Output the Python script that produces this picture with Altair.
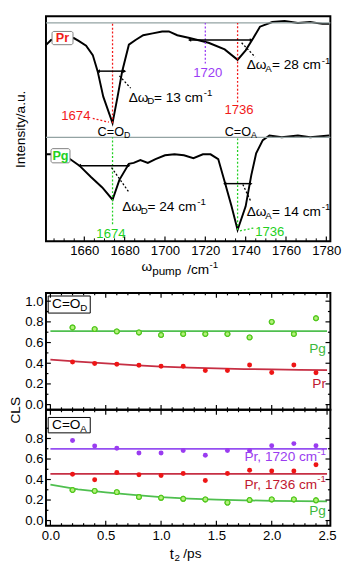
import altair as alt
import pandas as pd

FONT = "Liberation Sans"
W = 292
H_TOP = 231
H1 = 120
H2 = 119

RED = "#f21a1a"
GREEN = "#22d022"
PURPLE = "#9a3cf5"
GRAY = "#93a3a3"
DARKRED = "#c01830"
LGREEN = "#3cb83c"

# ---------------- top panel: pump spectra ----------------
pr_w = [1641.2, 1643.5, 1654.8, 1657.2, 1660.9, 1664.2, 1666.6, 1669.4, 1674.0,
        1676.5, 1678.8, 1682.1, 1685.4, 1689.2, 1693.9, 1698.6, 1701.9,
        1706.1, 1712.2, 1721.6, 1729.6, 1736.0, 1740.0, 1743.8, 1747.1,
        1753.2, 1759.3, 1765.9, 1772.0, 1778.1, 1781.4]
pr_i = [208, 213, 215, 212, 207, 197, 180, 153, 125,
        153, 180, 208, 213, 218, 220, 222, 222,
        218, 215, 210, 203, 192, 202, 215, 227,
        232, 233, 231, 232, 230, 230]
pg_w = [1641.2, 1646.8, 1652.9, 1657.6, 1663.3, 1668.9, 1674.0,
        1677.4, 1682.1, 1684.5, 1687.8, 1691.5, 1695.3, 1700.0,
        1704.7, 1709.4, 1714.1, 1718.8, 1722.6, 1726.4, 1729.6,
        1733.0, 1736.0, 1740.0, 1742.8, 1745.2, 1748.5, 1751.8,
        1757.9, 1765.9, 1772.0, 1781.4]
pg_i = [92, 92, 87, 80, 68, 57, 44,
        65, 82, 83, 86, 83, 87, 91,
        92, 91, 88, 92, 92, 87, 63,
        37, 12, 37, 70, 93, 107, 112,
        110, 112, 110, 112]
top_ticks = [1660, 1680, 1700, 1720, 1740, 1760, 1780]
top_minor = [1645, 1650, 1655, 1665, 1670, 1675, 1685, 1690, 1695, 1705, 1710,
             1715, 1725, 1730, 1735, 1745, 1750, 1755, 1765, 1770, 1775]
base_lines = [231, 110]
vl_w = [1674, 1736, 1720, 1674, 1736]
vl_lo = [125, 147, 188, 18, 12]
vl_hi = [231, 231, 231, 110, 110]
vl_c = [RED, RED, PURPLE, GREEN, GREEN]
arr_w1 = [1667.0, 1712.2, 1657.6, 1729.6]
arr_w2 = [1680.0, 1742.8, 1682.1, 1742.6]
arr_v = [180, 213, 80, 61]
con_x1 = [1677.4, 1738.0, 1673.5, 1738.6, 1664.2, 1737.2]
con_x2 = [1683.0, 1744.7, 1682.1, 1742.4, 1672.2, 1743.8]
con_y1 = [175, 210, 78, 60, 130, 11]
con_y2 = [162, 195, 52, 43, 126, 14]
con_c = ["black", "black", "black", "black", RED, GREEN]

# ---------------- bottom panels: CLS vs t2 ----------------
t2 = [0.2, 0.4, 0.6, 0.8, 1.0, 1.2, 1.4, 1.6, 1.8, 2.0, 2.2, 2.4]
d_pg = [0.746, 0.73, 0.708, 0.698, 0.673, 0.683, 0.683, 0.683, 0.65, 0.8, 0.683, 0.835]
d_pr = [0.413, 0.397, 0.39, 0.38, 0.371, 0.371, 0.33, 0.33, 0.384, 0.311, 0.384, 0.308]
a_pr1720 = [0.78, 0.726, 0.705, 0.658, 0.658, 0.683, 0.637, 0.683, 0.683, 0.73, 0.75, 0.73]
a_pr1736 = [0.452, 0.397, 0.468, 0.446, 0.44, 0.458, 0.39, 0.458, 0.49, 0.483, 0.483, 0.545]
a_pg = [0.298, 0.289, 0.277, 0.23, 0.222, 0.212, 0.206, 0.175, 0.2, 0.206, 0.206, 0.197]
fit_t = [0.0, 0.25, 0.5, 0.75, 1.0, 1.25, 1.5, 1.75, 2.0, 2.25, 2.5]
fit_d_pr = [0.435, 0.415, 0.398, 0.382, 0.368, 0.358, 0.35, 0.344, 0.34, 0.336, 0.333]
fit_a_pg = [0.35, 0.305, 0.275, 0.25, 0.228, 0.213, 0.203, 0.197, 0.193, 0.19, 0.188]
flat_t = [0.0, 2.5]
fit_d_pg = [0.71, 0.71]
fit_a_pr1720 = [0.70, 0.70]
fit_a_pr1736 = [0.455, 0.455]
bx_major = [0.0, 0.5, 1.0, 1.5, 2.0, 2.5]
bx_minor = [0.1, 0.2, 0.3, 0.4, 0.6, 0.7, 0.8, 0.9, 1.1, 1.2, 1.3, 1.4,
            1.6, 1.7, 1.8, 1.9, 2.1, 2.2, 2.3, 2.4]
by_major = [0.0, 0.2, 0.4, 0.6, 0.8, 1.0]
by_minor = [0.1, 0.3, 0.5, 0.7, 0.9]

XT = alt.Scale(domain=[1641, 1782], nice=False, zero=False)
YT = alt.Scale(domain=[0, 238], nice=False, zero=False)
XB = alt.Scale(domain=[-0.04, 2.53], nice=False, zero=False)
YB = alt.Scale(domain=[-0.05, 1.08], nice=False, zero=False)

# axis definitions, shared by every layer of a panel
AX_TOP_X = alt.Axis(values=top_ticks, format="d", ticks=False, domain=False, grid=False,
                    labelFontSize=13.5, labelPadding=3, labelFlush=False,
                    labelOverlap=False, title=None)
AX_TOP_Y = alt.Axis(labels=False, ticks=False, domain=False, grid=False,
                    title="Intensity/a.u.", titleFontSize=14, titleFontWeight="normal",
                    titlePadding=19)
AX_P1_Y = alt.Axis(values=by_major, format=".1f", ticks=False, domain=False, grid=False,
                   labelFontSize=13.5, labelPadding=3, labelOverlap=False, title="CLS",
                   titleFontSize=14, titleFontWeight="normal", titlePadding=2, titleY=H1)
AX_P2_X = alt.Axis(values=bx_major, format=".1f", ticks=False, domain=False, grid=False,
                   labelFontSize=13.5, labelPadding=3, labelFlush=False, labelOverlap=False,
                   title=None)
AX_P2_Y = alt.Axis(values=[0.0, 0.2, 0.4, 0.6, 0.8], format=".1f", ticks=False,
                   domain=False, grid=False, labelFontSize=13.5, labelPadding=3,
                   labelOverlap=False, title=None)

CT = dict(xs=XT, ys=YT, xa=AX_TOP_X, ya=AX_TOP_Y)
C1 = dict(xs=XB, ys=YB, xa=None, ya=AX_P1_Y)
C2 = dict(xs=XB, ys=YB, xa=AX_P2_X, ya=AX_P2_Y)


def ex(c, f):
    return alt.X(f"{f}:Q", scale=c["xs"], axis=c["xa"])


def ey(c, f):
    return alt.Y(f"{f}:Q", scale=c["ys"], axis=c["ya"])


def txt(c, xv, yv, s, **kw):
    d = pd.DataFrame({"x": [xv], "y": [yv], "s": [s]})
    return alt.Chart(d).mark_text(font=FONT, **kw).encode(
        x=ex(c, "x"), y=ey(c, "y"), text="s:N")


def ptxt(px, py, s, **kw):
    d = pd.DataFrame({"s": [s]})
    return alt.Chart(d).mark_text(font=FONT, **kw).encode(
        x=alt.value(px), y=alt.value(py), text="s:N")


def delta(w, v, sub, rest):
    return [
        txt(CT, w, v, "Δω", align="left", fontSize=14),
        txt(CT, w, v, sub, align="left", dx=19, dy=4, fontSize=10),
        txt(CT, w, v, rest, align="left", dx=26, fontSize=14),
        txt(CT, w, v, "-1", align="left", dx=77, dy=-5, fontSize=10),
    ]


def cox(c, xv, yv, sub, size=13, subsize=9, wco=27):
    return [
        txt(c, xv, yv, "C=O", align="left", fontSize=size),
        txt(c, xv, yv, sub, align="left", dx=wco, dy=4, fontSize=subsize),
    ]


spec_df = pd.concat([
    pd.DataFrame({"w": pr_w, "i": pr_i, "s": "Pr"}),
    pd.DataFrame({"w": pg_w, "i": pg_i, "s": "Pg"}),
])

spectra = alt.Chart(spec_df).mark_line(color="black", strokeWidth=2).encode(
    x=ex(CT, "w"), y=ey(CT, "i"), detail="s:N")

gray = alt.Chart(pd.DataFrame({"v": base_lines})).mark_rule(
    color=GRAY, strokeWidth=1.3).encode(y=ey(CT, "v"))

vlines = alt.Chart(pd.DataFrame({"w": vl_w, "a": vl_lo, "b": vl_hi, "c": vl_c})).mark_rule(
    strokeDash=[2, 2], strokeWidth=1.3).encode(
    x=ex(CT, "w"), y=ey(CT, "a"), y2="b:Q", color=alt.Color("c:N", scale=None))

arr_df = pd.DataFrame({"a": arr_w1, "b": arr_w2, "v": arr_v})
arrows = alt.Chart(arr_df).mark_rule(color="black", strokeWidth=1.5).encode(
    x=ex(CT, "a"), x2="b:Q", y=ey(CT, "v"))
head_l = alt.Chart(arr_df).mark_point(shape="triangle-left", filled=True, size=14,
                                      color="black", opacity=1).encode(
    x=ex(CT, "a"), y=ey(CT, "v"))
head_r = alt.Chart(arr_df).mark_point(shape="triangle-right", filled=True, size=14,
                                      color="black", opacity=1).encode(
    x=ex(CT, "b"), y=ey(CT, "v"))

conn = alt.Chart(pd.DataFrame({"x1": con_x1, "x2": con_x2, "y1": con_y1, "y2": con_y2,
                               "c": con_c})).mark_rule(
    strokeDash=[2, 2], strokeWidth=1.3).encode(
    x=ex(CT, "x1"), x2="x2:Q", y=ey(CT, "y1"), y2="y2:Q",
    color=alt.Color("c:N", scale=None))

boxes_top = alt.Chart(pd.DataFrame({"x1": [1644.0, 1643.5], "x2": [1654.4, 1652.9],
                                    "y1": [222, 98], "y2": [208, 83]})).mark_rect(
    fill="white", stroke="#808080", strokeWidth=1, cornerRadius=2).encode(
    x=ex(CT, "x1"), x2="x2:Q", y=ey(CT, "y1"), y2="y2:Q")

ticks_top = [
    alt.Chart(pd.DataFrame({"w": top_ticks})).mark_rule(color="black", strokeWidth=1.2).encode(
        x=ex(CT, "w"), y=alt.value(H_TOP), y2=alt.value(H_TOP - 5)),
    alt.Chart(pd.DataFrame({"w": top_minor})).mark_rule(color="black", strokeWidth=1).encode(
        x=ex(CT, "w"), y=alt.value(H_TOP), y2=alt.value(H_TOP - 3)),
]

top_texts = [
    txt(CT, 1649.2, 215, "Pr", fontSize=13, fontWeight="bold", color=RED),
    txt(CT, 1648.2, 90.5, "Pg", fontSize=13, fontWeight="bold", color=GREEN),
    txt(CT, 1655.8, 132, "1674", fontSize=13.5, color=RED),
    txt(CT, 1721.2, 178, "1720", fontSize=13.5, color=PURPLE),
    txt(CT, 1736.7, 139, "1736", fontSize=13.5, color=RED),
    txt(CT, 1673.2, 8, "1674", fontSize=13.5, color=GREEN),
    txt(CT, 1744.7, 10, "1736", align="left", fontSize=13.5, color=GREEN),
]
top_texts += cox(CT, 1666.6, 116, "D")
top_texts += cox(CT, 1729.6, 116, "A")
top_texts += delta(1682.0, 152, "D", "= 13 cm")
top_texts += delta(1740.5, 186, "A", "= 28 cm")
top_texts += delta(1678.8, 36, "D", "= 24 cm")
top_texts += delta(1740.5, 31, "A", "= 14 cm")

xtitle = [
    ptxt(98, H_TOP + 27, "ω", align="left", fontSize=14),
    ptxt(109, H_TOP + 31, "pump", align="left", fontSize=12),
    ptxt(145, H_TOP + 30, "/cm", align="left", fontSize=14),
    ptxt(168, H_TOP + 24, "-1", align="left", fontSize=10),
]

top = alt.layer(spectra, gray, vlines, arrows, head_l, head_r, conn, boxes_top,
                *ticks_top, *top_texts, *xtitle).properties(width=W, height=H_TOP)


# ---------------- bottom panels ----------------
def tick_layers(c, h, yvals, yminor):
    out = []
    for vals, L in ((bx_major, 5), (bx_minor, 2.5)):
        d = pd.DataFrame({"t": vals})
        out.append(alt.Chart(d).mark_rule(color="black", strokeWidth=1.2).encode(
            x=ex(c, "t"), y=alt.value(h), y2=alt.value(h - L)))
        out.append(alt.Chart(d).mark_rule(color="black", strokeWidth=1.2).encode(
            x=ex(c, "t"), y=alt.value(0), y2=alt.value(L)))
    for vals, L in ((yvals, 5), (yminor, 2.5)):
        d = pd.DataFrame({"v": vals})
        out.append(alt.Chart(d).mark_rule(color="black", strokeWidth=1.2).encode(
            y=ey(c, "v"), x=alt.value(0), x2=alt.value(L)))
        out.append(alt.Chart(d).mark_rule(color="black", strokeWidth=1.2).encode(
            y=ey(c, "v"), x=alt.value(W), x2=alt.value(W - L)))
    return out


def fit_line(c, ts, vs, color):
    return alt.Chart(pd.DataFrame({"t": ts, "v": vs})).mark_line(
        color=color, strokeWidth=1.8, opacity=0.9).encode(x=ex(c, "t"), y=ey(c, "v"))


def pts(c, vs, kind):
    d = pd.DataFrame({"t": t2, "v": vs})
    if kind == "green":
        m = alt.Chart(d).mark_point(shape="circle", filled=True, fill="#b4f07c",
                                    stroke="#52c81e", strokeWidth=1.2, size=24, opacity=1)
    else:
        m = alt.Chart(d).mark_circle(color=kind, size=26, opacity=1)
    return m.encode(x=ex(c, "t"), y=ey(c, "v"))


def box(c, y1, y2):
    return alt.Chart(pd.DataFrame({"a": [-0.02], "b": [0.36], "c": [y1], "d": [y2]})).mark_rect(
        fill="white", stroke="black", strokeWidth=1).encode(
        x=ex(c, "a"), x2="b:Q", y=ey(c, "c"), y2="d:Q")


def label_cm(c, yv, s, color):
    return [
        txt(c, 2.49, yv, s, align="right", dx=-9, fontSize=14, color=color),
        txt(c, 2.49, yv, "-1", align="right", dy=-6, fontSize=10, color=color),
    ]


p1_layers = [pts(C1, d_pg, "green"), box(C1, 1.05, 0.885)]
p1_layers += cox(C1, 0.015, 0.967, "D", size=14, subsize=10, wco=29)
p1_layers += [fit_line(C1, flat_t, fit_d_pg, LGREEN), fit_line(C1, fit_t, fit_d_pr, DARKRED),
              pts(C1, d_pg, "green"), pts(C1, d_pr, "#ee1515"),
              txt(C1, 2.49, 0.533, "Pg", align="right", fontSize=14, color=LGREEN),
              txt(C1, 2.49, 0.2, "Pr", align="right", fontSize=14, color=DARKRED)]
p1 = alt.layer(*p1_layers, *tick_layers(C1, H1, by_major, by_minor)).properties(
    width=W, height=H1)

t_title = [
    ptxt(127, H2 + 29, "t", align="left", fontSize=15),
    ptxt(132, H2 + 33, "2", align="left", fontSize=10),
    ptxt(141, H2 + 29, "/ps", align="left", fontSize=14),
]

p2_layers = [pts(C2, a_pg, "green"), box(C2, 1.005, 0.855)]
p2_layers += cox(C2, 0.015, 0.93, "A", size=14, subsize=10, wco=29)
p2_layers += [fit_line(C2, flat_t, fit_a_pr1720, "#8a3cf0"),
              fit_line(C2, flat_t, fit_a_pr1736, DARKRED),
              fit_line(C2, fit_t, fit_a_pg, LGREEN),
              pts(C2, a_pr1720, "#9a3cf0"), pts(C2, a_pr1736, "#ee1515"),
              pts(C2, a_pg, "green"),
              txt(C2, 2.49, 0.093, "Pg", align="right", fontSize=14, color=LGREEN)]
p2_layers += label_cm(C2, 0.614, "Pr, 1720 cm", "#9a3cf0")
p2_layers += label_cm(C2, 0.344, "Pr, 1736 cm", DARKRED)
p2 = alt.layer(*p2_layers, *tick_layers(C2, H2, by_major[:5], by_minor), *t_title).properties(
    width=W, height=H2)

bottom = alt.vconcat(p1, p2, spacing=0, bounds="flush")

chart = alt.vconcat(top, bottom, spacing=53, bounds="flush").properties(
    padding={"left": 0, "top": 0, "right": 2, "bottom": 0}
).configure_view(stroke="black", strokeWidth=2).configure_axis(
    labelFont=FONT, titleFont=FONT, labelColor="black", titleColor="black"
).configure_text(font=FONT)

chart.save("out.html", embed_options={"renderer": "svg", "actions": False})
